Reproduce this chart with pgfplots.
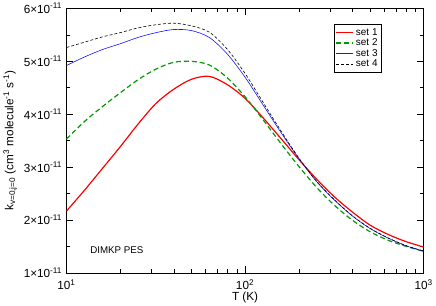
\documentclass[border=0pt]{standalone}
\usepackage{fontspec}
\setmainfont{Liberation Sans}
\usepackage{pgfplots}
\pgfplotsset{compat=1.18}
\definecolor{myred}{RGB}{255,0,0}
\definecolor{mygreen}{RGB}{0,155,0}
\definecolor{myblue}{RGB}{20,20,255}
\begin{document}
\begin{tikzpicture}
\begin{axis}[
  scale only axis, width=359pt, height=266pt,
  xmode=log, xmin=10, xmax=1000, ymin=1, ymax=6,
  xtick={10,100,1000},
  xticklabels={10\textsuperscript{1},10\textsuperscript{2},10\textsuperscript{3}},
  ytick={1,2,3,4,5,6},
  yticklabels={1×10\textsuperscript{-11},2×10\textsuperscript{-11},3×10\textsuperscript{-11},4×10\textsuperscript{-11},5×10\textsuperscript{-11},6×10\textsuperscript{-11}},
  minor y tick num=1,
  tick align=inside, major tick length=7pt, minor tick length=4pt,
  every tick/.style={black, line width=0.6pt},
  axis line style={line width=0.9pt},
  tick label style={font=\fontsize{11.8}{13}\selectfont},
  xticklabel style={yshift=-3pt},
  yticklabel style={xshift=-1pt},
  xlabel={T (K)},
  ylabel={k\textsubscript{v=0,j=0} (cm\textsuperscript{3} molecule\textsuperscript{-1} s\textsuperscript{-1})},
  label style={font=\fontsize{11.8}{13}\selectfont},
  xlabel style={yshift=5pt},
  legend style={at={(0.883,0.94)}, anchor=north east, font=\fontsize{10}{11}\selectfont,
    draw=black, line width=0.6pt, inner sep=2pt, row sep=-2pt},
  legend cell align=left,
]
\addplot[myred, line width=1.2pt, smooth] coordinates {
(10,2.17) (12.59,2.56) (15.85,2.97) (19.95,3.38) (25.12,3.81) (31.62,4.20) (39.81,4.47)
(50.12,4.66) (63.10,4.715) (79.43,4.56) (100,4.30) (125.9,3.935) (158.5,3.545)
(199.5,3.15) (251.2,2.775) (316.2,2.44) (398.1,2.155) (501.2,1.905) (631.0,1.73)
(794.3,1.595) (1000,1.49)};
\addlegendentry{set 1}
\addplot[mygreen, line width=1.2pt, dash pattern=on 5pt off 3pt, smooth] coordinates {
(10,3.53) (12.59,3.86) (15.85,4.14) (19.95,4.40) (25.12,4.65) (31.62,4.85) (39.81,4.98)
(50.12,5.00) (63.10,4.93) (79.43,4.69) (100,4.33) (125.9,3.90) (158.5,3.45)
(199.5,3.02) (251.2,2.62) (316.2,2.28) (398.1,2.00) (501.2,1.78) (631.0,1.62)
(794.3,1.505) (1000,1.41)};
\addlegendentry{set 2}
\addplot[myblue, line width=0.6pt, smooth] coordinates {
(10,4.92) (12.59,5.08) (15.85,5.22) (19.95,5.33) (25.12,5.45) (31.62,5.54) (39.81,5.60)
(50.12,5.58) (63.10,5.45) (79.43,5.14) (100,4.70) (125.9,4.18) (158.5,3.66)
(199.5,3.17) (251.2,2.73) (316.2,2.38) (398.1,2.08) (501.2,1.84) (631.0,1.66)
(794.3,1.515) (1000,1.41)};
\addlegendentry{set 3}
\addplot[black, line width=0.6pt, dash pattern=on 3pt off 2pt, smooth] coordinates {
(10,5.26) (12.59,5.36) (15.85,5.46) (19.95,5.54) (25.12,5.63) (31.62,5.69) (39.81,5.72)
(50.12,5.67) (63.10,5.55) (79.43,5.23) (100,4.77) (125.9,4.23) (158.5,3.69)
(199.5,3.18) (251.2,2.735) (316.2,2.385) (398.1,2.085) (501.2,1.845) (631.0,1.665)
(794.3,1.52) (1000,1.415)};
\addlegendentry{set 4}
\node[anchor=west, font=\fontsize{9.8}{11}\selectfont] at (axis cs:13.0,1.44) {DIMKP PES};
\end{axis}
\end{tikzpicture}
\end{document}
